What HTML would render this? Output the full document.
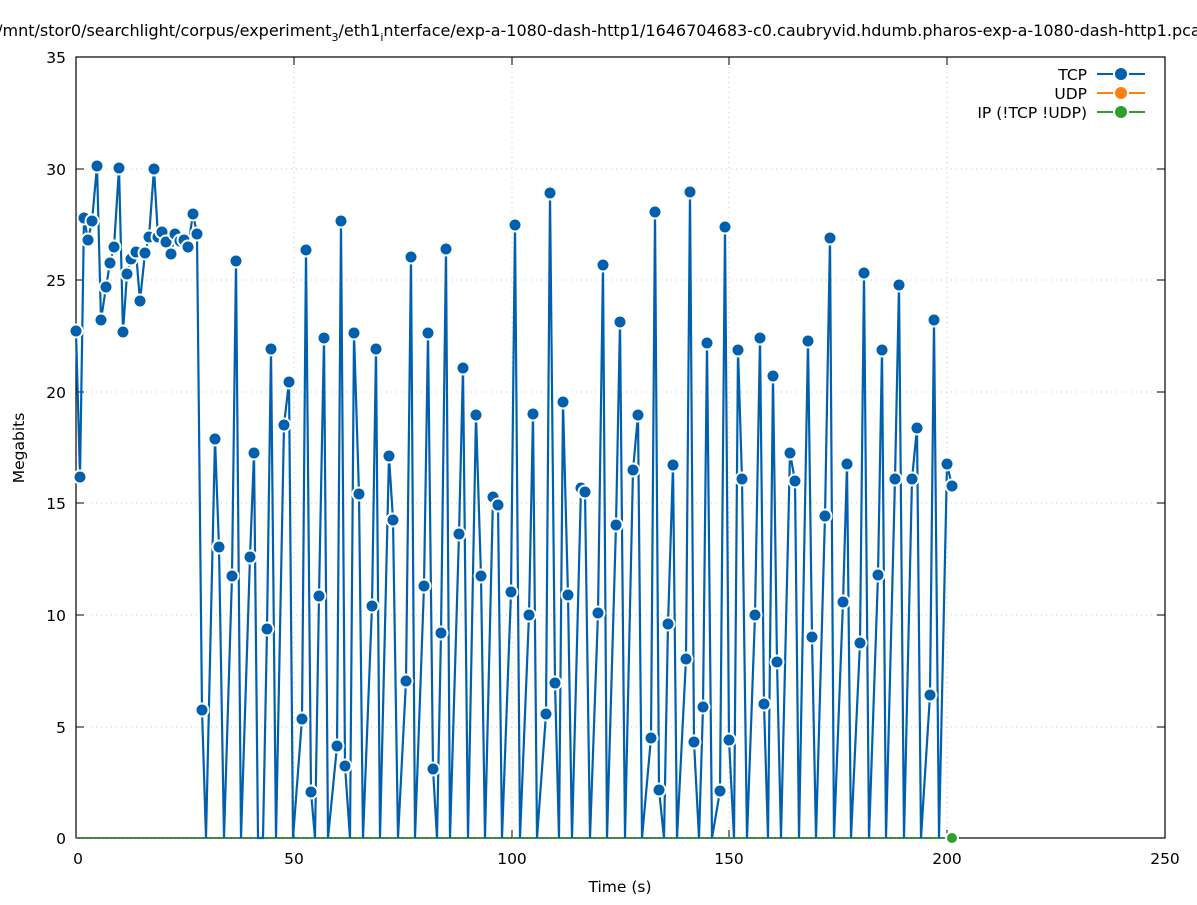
<!DOCTYPE html>
<html><head><meta charset="utf-8"><style>
body{margin:0;background:#fff;}
svg text{font-family:"DejaVu Sans","Liberation Sans",sans-serif;font-size:15.5px;fill:#000;}
</style></head><body>
<svg id="s" width="1197" height="900" viewBox="0 0 1197 900" xmlns="http://www.w3.org/2000/svg">
<rect width="1197" height="900" fill="#fff"/>
<g stroke="#c8c8c8" stroke-width="1" stroke-dasharray="1,4">
<line x1="76" y1="727" x2="1165" y2="727"/><line x1="76" y1="615" x2="1165" y2="615"/>
<line x1="76" y1="503" x2="1165" y2="503"/><line x1="76" y1="392" x2="1165" y2="392"/>
<line x1="76" y1="280" x2="1165" y2="280"/><line x1="76" y1="169" x2="1165" y2="169"/>
<line x1="76" y1="57" x2="1165" y2="57"/>
<line x1="294" y1="57" x2="294" y2="838"/><line x1="512" y1="57" x2="512" y2="838"/>
<line x1="729" y1="57" x2="729" y2="838"/><line x1="947" y1="57" x2="947" y2="838"/>
<line x1="1165" y1="57" x2="1165" y2="838"/>
</g>
<rect x="76" y="57" width="1089" height="781" fill="none" stroke="#000" stroke-width="1.2"/>
<g stroke="#000" stroke-width="1">
<line x1="76" y1="727" x2="84" y2="727"/><line x1="76" y1="615" x2="84" y2="615"/><line x1="76" y1="503" x2="84" y2="503"/><line x1="76" y1="392" x2="84" y2="392"/><line x1="76" y1="280" x2="84" y2="280"/><line x1="76" y1="169" x2="84" y2="169"/>
<line x1="1165" y1="727" x2="1157" y2="727"/><line x1="1165" y1="615" x2="1157" y2="615"/><line x1="1165" y1="503" x2="1157" y2="503"/><line x1="1165" y1="392" x2="1157" y2="392"/><line x1="1165" y1="280" x2="1157" y2="280"/><line x1="1165" y1="169" x2="1157" y2="169"/>
<line x1="294" y1="838" x2="294" y2="830"/><line x1="512" y1="838" x2="512" y2="830"/><line x1="729" y1="838" x2="729" y2="830"/><line x1="947" y1="838" x2="947" y2="830"/>
<line x1="294" y1="57" x2="294" y2="65"/><line x1="512" y1="57" x2="512" y2="65"/><line x1="729" y1="57" x2="729" y2="65"/><line x1="947" y1="57" x2="947" y2="65"/>
</g>
<g text-anchor="end">
<text x="66" y="844">0</text><text x="66" y="733">5</text><text x="66" y="621">10</text><text x="66" y="509">15</text><text x="66" y="398">20</text><text x="66" y="286">25</text><text x="66" y="175">30</text><text x="66" y="63">35</text>
</g>
<g text-anchor="middle">
<text x="78" y="864">0</text><text x="294" y="864">50</text><text x="512" y="864">100</text><text x="729" y="864">150</text><text x="947" y="864">200</text><text x="1165" y="864">250</text>
<text x="620" y="892">Time (s)</text>
<text x="604" y="36" style="font-size:16px">/mnt/stor0/searchlight/corpus/experiment<tspan font-size="11" dy="5">3</tspan><tspan dy="-5">/eth1</tspan><tspan font-size="11" dy="5">i</tspan><tspan dy="-5">nterface/exp-a-1080-dash-http1/1646704683-c0.caubryvid.hdumb.pharos-exp-a-1080-dash-http1.pcap</tspan></text>
</g>
<text transform="translate(24,448) rotate(-90)" text-anchor="middle">Megabits</text>
<g text-anchor="end">
<text x="1087" y="80">TCP</text><text x="1087" y="99">UDP</text><text x="1087" y="118">IP (!TCP  !UDP)</text>
</g>
<g stroke-width="2">
<line x1="1097" y1="74" x2="1113" y2="74" stroke="#0060ad"/><line x1="1129" y1="74" x2="1145" y2="74" stroke="#0060ad"/><circle cx="1121" cy="74" r="6" fill="#0060ad" stroke="none"/>
<line x1="1097" y1="93" x2="1113" y2="93" stroke="#ff7f0e"/><line x1="1129" y1="93" x2="1145" y2="93" stroke="#ff7f0e"/><circle cx="1121" cy="93" r="6" fill="#ff7f0e" stroke="none"/>
<line x1="1097" y1="112" x2="1113" y2="112" stroke="#2ca02c"/><line x1="1129" y1="112" x2="1145" y2="112" stroke="#2ca02c"/><circle cx="1121" cy="112" r="6" fill="#2ca02c" stroke="none"/>
</g>
<line x1="76" y1="838" x2="952" y2="838" stroke="#2ca02c" stroke-width="2" stroke-dasharray="2,2"/>
<g id="d"></g>
<circle cx="952" cy="838" r="6" fill="#2ca02c" stroke="#fff" stroke-width="2"/>
</svg>
<script>
var p=[76,331,80,477,84,218,88,240,92,221,97,166,101,320,106,287,110,263,114,247,119,168,123,332,127,274,131,259,136,252,140,301,145,253,149,237,154,169,158,237,162,232,166,242,171,254,175,234,180,241,184,240,188,247,193,214,197,234,202,710,206,838,215,439,219,547,224,838,232,576,236,261,241,838,250,557,254,453,258,838,263,838,267,629,271,349,276,838,284,425,289,382,293,838,302,719,306,250,311,792,315,838,319,596,324,338,328,838,337,746,341,221,345,766,350,838,354,333,359,494,363,838,372,606,376,349,380,838,389,456,393,520,398,838,406,681,411,257,415,838,424,586,428,333,433,769,437,838,441,633,446,249,450,838,459,534,463,368,468,838,476,415,481,576,485,838,493,497,498,505,502,838,511,592,515,225,520,838,529,615,533,414,537,838,546,714,550,193,555,683,559,838,563,402,568,595,572,838,581,488,585,492,590,838,598,613,603,265,607,838,616,525,620,322,625,838,633,470,638,415,642,838,651,738,655,212,659,790,664,838,668,624,673,465,677,838,686,659,690,192,694,742,699,838,703,707,707,343,712,838,720,791,725,227,729,740,734,838,738,350,742,479,747,838,755,615,760,338,764,704,768,838,773,376,777,662,781,838,790,453,795,481,799,838,808,341,812,637,816,838,825,516,830,238,834,838,843,602,847,464,851,838,860,643,864,273,869,838,878,575,882,350,886,838,895,479,899,285,904,838,912,479,917,428,921,838,930,695,934,320,939,838,947,464,952,486];
var ns="http://www.w3.org/2000/svg",g=document.getElementById("d"),pts=[];
for(var i=0;i<p.length;i+=2)pts.push(p[i]+","+p[i+1]);
var pl=document.createElementNS(ns,"polyline");
pl.setAttribute("points",pts.join(" "));pl.setAttribute("fill","none");pl.setAttribute("stroke","#0060ad");pl.setAttribute("stroke-width","2.2");
g.appendChild(pl);
for(var i=0;i<p.length;i+=2){if(p[i+1]>=838)continue;var c=document.createElementNS(ns,"circle");
c.setAttribute("cx",p[i]);c.setAttribute("cy",p[i+1]);c.setAttribute("r","6.5");c.setAttribute("fill","#0060ad");c.setAttribute("stroke","#fff");c.setAttribute("stroke-width","2");g.appendChild(c);}
</script>
</body></html>
